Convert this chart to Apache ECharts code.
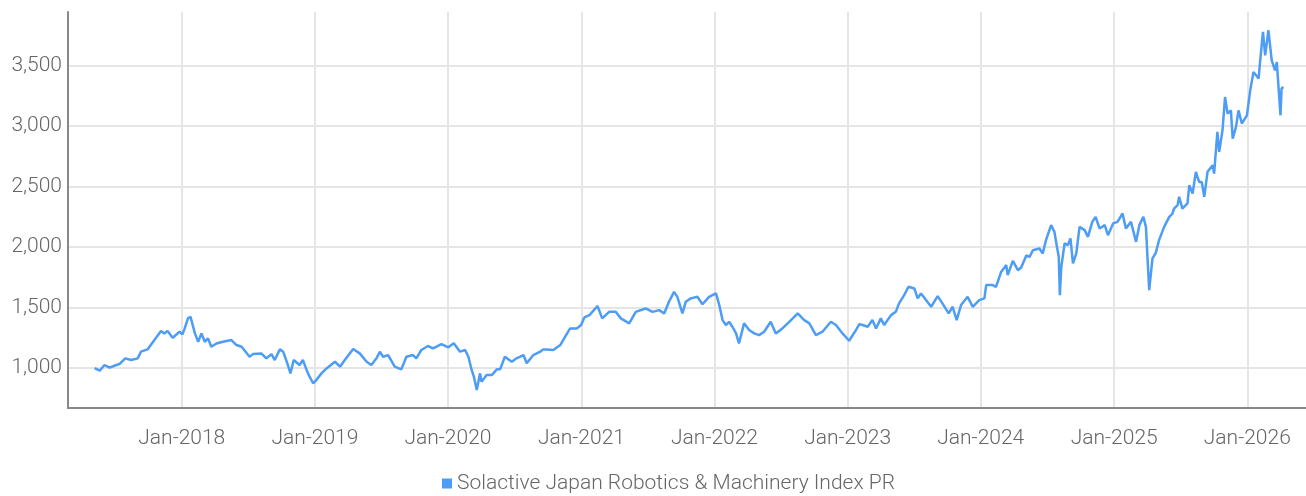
<!DOCTYPE html>
<html lang="en">
<head>
<meta charset="UTF-8">
<title>Solactive Japan Robotics & Machinery Index PR</title>
<script src="https://cdn.jsdelivr.net/npm/echarts@6/dist/echarts.min.js"></script>
<style>html,body{margin:0;padding:0;background:#fff}</style>
</head>
<body>
<div id="main" style="width:1306px;height:496px"></div>
<script>
const seriesName = 'Solactive Japan Robotics & Machinery Index PR'
const months = ['Jan','Feb','Mar','Apr','May','Jun','Jul','Aug','Sep','Oct','Nov','Dec']

const dates = [
    '2017-05-07','2017-05-21','2017-06-03','2017-06-17','2017-06-30','2017-07-14','2017-07-30','2017-08-15','2017-09-02','2017-09-11','2017-09-29','2017-10-18','2017-11-05','2017-11-14','2017-11-23','2017-12-07','2017-12-26',
    '2018-01-03','2018-01-09','2018-01-18','2018-01-25','2018-02-06','2018-02-15','2018-02-24','2018-03-05','2018-03-14','2018-03-23','2018-04-06','2018-04-24','2018-05-17','2018-05-31','2018-06-14','2018-07-06','2018-07-15','2018-08-07','2018-08-21','2018-09-04','2018-09-13','2018-09-27','2018-10-06','2018-10-19','2018-10-26','2018-11-04','2018-11-20','2018-11-29','2018-12-13','2018-12-27',
    '2019-01-05','2019-01-19','2019-02-02','2019-02-25','2019-03-11','2019-03-24','2019-04-16','2019-05-04','2019-05-23','2019-06-05','2019-06-19','2019-06-28','2019-07-07','2019-07-21','2019-08-08','2019-08-26','2019-09-09','2019-09-27','2019-10-06','2019-10-20','2019-11-07','2019-11-21','2019-12-14',
    '2020-01-02','2020-01-17','2020-02-03','2020-02-17','2020-02-26','2020-03-06','2020-03-12','2020-03-20','2020-03-29','2020-04-02','2020-04-16','2020-04-30','2020-05-14','2020-05-23','2020-06-05','2020-06-24','2020-07-07','2020-07-26','2020-08-04','2020-08-22','2020-09-10','2020-09-18','2020-09-28','2020-10-16','2020-11-04','2020-11-17','2020-12-01','2020-12-19','2020-12-31',
    '2021-01-09','2021-01-23','2021-02-14','2021-02-27','2021-03-18','2021-04-05','2021-04-19','2021-05-12','2021-05-30','2021-06-26','2021-07-15','2021-08-02','2021-08-16','2021-08-29','2021-09-12','2021-09-21','2021-10-05','2021-10-14','2021-10-28','2021-11-15','2021-11-29','2021-12-17',
    '2022-01-05','2022-01-14','2022-01-23','2022-02-01','2022-02-10','2022-02-19','2022-03-01','2022-03-09','2022-03-23','2022-04-06','2022-04-20','2022-05-03','2022-05-17','2022-06-04','2022-06-18','2022-07-06','2022-07-25','2022-08-17','2022-09-04','2022-09-18','2022-10-06','2022-10-24','2022-11-16','2022-11-30','2022-12-18',
    '2023-01-05','2023-01-24','2023-02-02','2023-02-11','2023-02-25','2023-03-10','2023-03-20','2023-04-02','2023-04-11','2023-04-30','2023-05-13','2023-05-22','2023-06-05','2023-06-17','2023-07-03','2023-07-12','2023-07-21','2023-08-04','2023-08-18','2023-09-05','2023-09-18','2023-10-05','2023-10-16','2023-10-27','2023-11-08','2023-11-26','2023-12-10','2023-12-28',
    '2024-01-11','2024-01-16','2024-02-03','2024-02-12','2024-02-26','2024-03-11','2024-03-15','2024-03-29','2024-04-12','2024-04-21','2024-05-05','2024-05-14','2024-05-23','2024-06-10','2024-06-19','2024-06-28','2024-07-12','2024-07-21','2024-07-28','2024-08-02','2024-08-05','2024-08-09','2024-08-18','2024-08-27','2024-09-03','2024-09-10','2024-09-19','2024-09-28','2024-10-12','2024-10-21','2024-11-02','2024-11-11','2024-11-22','2024-12-06','2024-12-15','2024-12-29',
    '2025-01-10','2025-01-24','2025-02-02','2025-02-16','2025-03-02','2025-03-11','2025-03-22','2025-03-29','2025-04-07','2025-04-16','2025-04-25','2025-05-04','2025-05-18','2025-06-01','2025-06-10','2025-06-14','2025-06-24','2025-06-28','2025-07-07','2025-07-12','2025-07-21','2025-07-26','2025-08-04','2025-08-13','2025-08-22','2025-08-29','2025-09-05','2025-09-14','2025-09-28','2025-10-02','2025-10-11','2025-10-16','2025-10-25','2025-11-01','2025-11-08','2025-11-17','2025-11-22','2025-12-01','2025-12-08','2025-12-17','2025-12-31',
    '2026-01-09','2026-01-18','2026-02-01','2026-02-05','2026-02-13','2026-02-19','2026-02-28','2026-03-09','2026-03-18','2026-03-23','2026-03-27','2026-04-02','2026-04-05','2026-04-10'
]

const values = [
    1000,978,1025,1003,1019,1033,1080,1066,1080,1135,1154,1231,1305,1286,1305,1250,1300,
    1278,1327,1410,1423,1286,1217,1286,1217,1245,1176,1203,1217,1231,1190,1176,1093,1115,1121,1080,1115,1066,1154,1135,1025,956,1066,1025,1066,956,874,
    901,956,997,1052,1011,1066,1157,1121,1052,1025,1080,1135,1093,1107,1011,989,1093,1107,1080,1149,1182,1163,1198,
    1171,1204,1135,1149,1093,984,929,818,956,887,942,942,989,989,1093,1052,1080,1107,1039,1107,1135,1154,1154,1149,1190,1258,1327,1327,1355,
    1418,1437,1512,1410,1464,1464,1410,1369,1464,1492,1464,1478,1451,1547,1629,1588,1451,1547,1575,1588,1527,1588,
    1616,1520,1396,1355,1382,1341,1286,1204,1369,1314,1286,1272,1300,1382,1286,1327,1382,1451,1396,1369,1272,1300,1382,1355,1286,
    1225,1314,1363,1355,1341,1396,1327,1410,1355,1437,1464,1534,1602,1671,1657,1575,1616,1561,1506,1594,1534,1451,1506,1396,1520,1588,1506,1561,
    1575,1685,1685,1671,1794,1850,1767,1885,1808,1830,1930,1918,1973,1987,1946,2056,2180,2125,2001,1918,1602,1836,2029,2015,2070,1864,1946,2166,2139,2083,2207,2248,2152,2180,2097,2194,
    2207,2276,2152,2207,2042,2180,2248,2166,1643,1905,1950,2056,2166,2248,2276,2317,2345,2414,2317,2331,2359,2510,2441,2620,2537,2537,2414,2620,2675,2606,2950,2785,2963,3238,3101,3128,2895,2991,3128,3019,3087,
    3293,3444,3390,3527,3775,3582,3789,3541,3459,3527,3349,3087,3307,3321
]

const lineData = dates.map((d, i) => [d, values[i]])
const textColor = '#666'
const fontFamily = 'Roboto, "Noto Sans", sans-serif'

const myChart = echarts.init(document.getElementById('main'))
const option = {
    animation: false,
    textStyle: { fontFamily: fontFamily },
    grid: { left: 68, right: 0, top: 12, bottom: 88, containLabel: false },
    legend: {
        left: 437,
        bottom: -3,
        icon: 'rect',
        itemWidth: 10,
        itemHeight: 10,
        itemGap: 5,
        textStyle: { color: textColor, fontSize: 21, fontWeight: 300, fontFamily: fontFamily },
        data: [seriesName]
    },
    xAxis: {
        type: 'time',
        min: '2017-02-23',
        max: '2026-06-11',
        minInterval: 365 * 24 * 3600 * 1000,
        maxInterval: 366 * 24 * 3600 * 1000,
        axisLine: { show: true, lineStyle: { color: '#888', width: 2 } },
        axisTick: { show: false },
        axisLabel: {
            color: textColor,
            fontSize: 21,
            fontWeight: 300,
            margin: 20,
            showMinLabel: false,
            showMaxLabel: false,
            formatter: function (v) {
                const d = new Date(v)
                return months[d.getMonth()] + '-' + d.getFullYear()
            }
        },
        splitLine: { show: true, showMinLine: false, showMaxLine: false, lineStyle: { color: '#e5e5e5', width: 2 } }
    },
    yAxis: {
        type: 'value',
        min: 670,
        max: 3940,
        splitNumber: 5,
        axisLine: { show: true, lineStyle: { color: '#888', width: 2 } },
        axisTick: { show: false },
        axisLabel: {
            color: textColor,
            fontSize: 21,
            fontWeight: 300,
            margin: 6,
            showMinLabel: false,
            showMaxLabel: false,
            formatter: function (v) { return v.toLocaleString('en-US') }
        },
        splitLine: { show: true, showMinLine: false, showMaxLine: false, lineStyle: { color: '#e5e5e5', width: 2 } }
    },
    series: [
        {
            name: seriesName,
            type: 'line',
            data: lineData,
            showSymbol: false,
            color: '#4d9cf6',
            lineStyle: { width: 2.5, color: '#4d9cf6' }
        }
    ]
}
myChart.setOption(option)
</script>
</body>
</html>
